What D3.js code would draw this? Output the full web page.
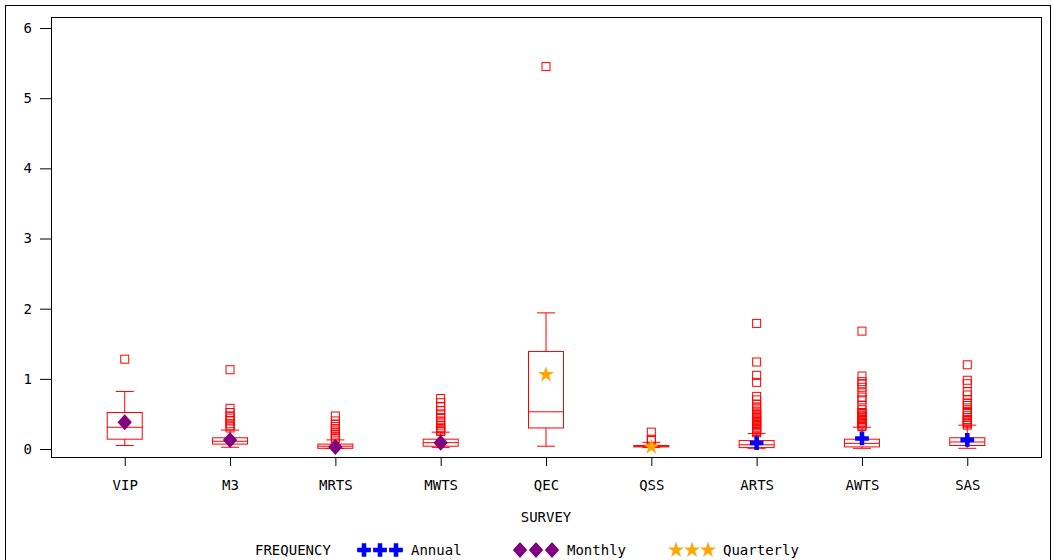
<!DOCTYPE html>
<html>
<head>
<meta charset="utf-8">
<script src="https://cdn.jsdelivr.net/npm/d3@7"></script>
<style>
  body { margin: 0; background: #fff; }
  text { font-family: "DejaVu Sans Mono", monospace; font-size: 14px; fill: #000; }
</style>
</head>
<body>
<div id="chart"></div>
<script>
// Survey categories and box statistics
var surveys   = ["VIP", "M3", "MRTS", "MWTS", "QEC", "QSS", "ARTS", "AWTS", "SAS"];
var frequency = ["Monthly", "Monthly", "Monthly", "Monthly", "Quarterly", "Quarterly", "Annual", "Annual", "Annual"];
var whiskLo   = [0.05, 0.025, 0.01, 0.02, 0.04, 0.02, 0.01, 0.01, 0.01];
var q1        = [0.14, 0.07, 0.01, 0.04, 0.30, 0.03, 0.02, 0.03, 0.05];
var medians   = [0.31, 0.11, 0.04, 0.09, 0.53, 0.04, 0.06, 0.08, 0.10];
var q3        = [0.52, 0.16, 0.07, 0.14, 1.39, 0.05, 0.12, 0.14, 0.16];
var whiskHi   = [0.82, 0.27, 0.13, 0.24, 1.94, 0.095, 0.22, 0.31, 0.34];
var means     = [0.38, 0.13, 0.03, 0.09, 1.06, 0.03, 0.085, 0.15, 0.13];
var outliers  = [
  [1.28],
  [1.13, 0.58, 0.52, 0.47, 0.44, 0.40, 0.36, 0.33, 0.30],
  [0.47, 0.40, 0.35, 0.32, 0.29, 0.26, 0.23, 0.20, 0.17, 0.15],
  [0.72, 0.66, 0.60, 0.55, 0.50, 0.45, 0.40, 0.37, 0.34, 0.31, 0.29, 0.27, 0.25],
  [5.45],
  [0.24, 0.14, 0.12],
  [1.79, 1.24, 1.05, 0.95, 0.75, 0.70, 0.64, 0.60, 0.57, 0.54, 0.51, 0.49, 0.47, 0.45, 0.43, 0.41, 0.39, 0.37, 0.35, 0.33, 0.31, 0.29, 0.27, 0.25, 0.23],
  [1.68, 1.04, 0.96, 0.93, 0.88, 0.80, 0.74, 0.70, 0.62, 0.56, 0.52, 0.50, 0.48, 0.46, 0.44, 0.42, 0.40, 0.38, 0.36, 0.34, 0.32],
  [1.20, 0.98, 0.93, 0.82, 0.77, 0.70, 0.65, 0.62, 0.56, 0.52, 0.48, 0.45, 0.42, 0.40, 0.38, 0.36, 0.34]
];
var yTicks = [0, 1, 2, 3, 4, 5, 6];
var legendItems = ["Annual", "Monthly", "Quarterly"];
var freqColor = {Annual: "#0000ff", Monthly: "#800080", Quarterly: "#ffa500"};

// wide diamond like the SAS marker
var wideDiamond = {
  draw: function(ctx, size) {
    var h = Math.sqrt(size) / 2, w = h * 0.9;
    ctx.moveTo(0, -h); ctx.lineTo(w, 0); ctx.lineTo(0, h); ctx.lineTo(-w, 0); ctx.closePath();
  }
};
var freqSymbol = {Annual: d3.symbolCross, Monthly: wideDiamond, Quarterly: d3.symbolStar};
var freqSize = {Annual: 105, Monthly: 256, Quarterly: 80};

var W = 1053, H = 560;
var margin = {top: 17, right: 12, bottom: 103, left: 51},
    width = W - margin.left - margin.right,
    height = H - margin.top - margin.bottom;

var svg = d3.select("#chart").append("svg")
    .attr("width", W).attr("height", H);

// outer frame
svg.append("rect")
  .attr("x", 5.5).attr("y", 5.5)
  .attr("width", 1045).attr("height", 600)
  .attr("fill", "none").attr("stroke", "#000");

var g = svg.append("g")
  .attr("transform", "translate(" + margin.left + "," + margin.top + ")");

var x = d3.scalePoint().domain(surveys).range([0, width]).padding(0.7);
var y = d3.scaleLinear().domain([-0.114, 6.157]).range([height, 0]);

// plot frame
g.append("rect")
  .attr("x", 0.5).attr("y", 0.5)
  .attr("width", width).attr("height", height)
  .attr("fill", "none").attr("stroke", "#000");

// Y axis
g.append("g")
  .call(d3.axisLeft(y).tickValues(yTicks).tickSize(11).tickPadding(8).tickFormat(d3.format("d")))
  .call(a => a.select(".domain").remove())
  .call(a => a.selectAll(".tick line").attr("stroke", "#000"))
  .call(a => a.selectAll("text").style("font-size", "14px"));

// X axis
g.append("g")
  .attr("transform", "translate(0," + height + ")")
  .call(d3.axisBottom(x).tickSize(9).tickPadding(14))
  .call(a => a.select(".domain").remove())
  .call(a => a.selectAll(".tick line").attr("stroke", "#000"))
  .call(a => a.selectAll("text").style("font-size", "14px"));

svg.append("text")
  .attr("x", margin.left + x("QEC")).attr("y", 522)
  .attr("text-anchor", "middle").text("SURVEY");

var boxW = 35, capW = 18, red = "#ff0000";

var boxes = g.selectAll(".box")
  .data(surveys)
  .enter().append("g")
  .attr("class", "box")
  .attr("transform", d => "translate(" + x(d) + ",0)");

// whiskers
boxes.append("line")
  .attr("y1", (d, i) => y(whiskHi[i])).attr("y2", (d, i) => y(q3[i]))
  .attr("stroke", red);
boxes.append("line")
  .attr("y1", (d, i) => y(whiskLo[i])).attr("y2", (d, i) => y(q1[i]))
  .attr("stroke", red);
boxes.append("line")
  .attr("x1", -capW / 2).attr("x2", capW / 2)
  .attr("y1", (d, i) => y(whiskHi[i])).attr("y2", (d, i) => y(whiskHi[i]))
  .attr("stroke", red);
boxes.append("line")
  .attr("x1", -capW / 2).attr("x2", capW / 2)
  .attr("y1", (d, i) => y(whiskLo[i])).attr("y2", (d, i) => y(whiskLo[i]))
  .attr("stroke", red);

// box and median
boxes.append("rect")
  .attr("x", -boxW / 2)
  .attr("y", (d, i) => y(q3[i]))
  .attr("width", boxW)
  .attr("height", (d, i) => Math.max(1, y(q1[i]) - y(q3[i])))
  .attr("fill", "none").attr("stroke", red);
boxes.append("line")
  .attr("x1", -boxW / 2).attr("x2", boxW / 2)
  .attr("y1", (d, i) => y(medians[i])).attr("y2", (d, i) => y(medians[i]))
  .attr("stroke", red);

// outliers
boxes.each(function(d, i) {
  d3.select(this).selectAll(".out")
    .data(outliers[i])
    .enter().append("rect")
    .attr("x", -4).attr("y", v => y(v) - 4)
    .attr("width", 8).attr("height", 8)
    .attr("fill", "none").attr("stroke", red);
});

// means
boxes.append("path")
  .attr("transform", (d, i) => "translate(0," + y(means[i]) + ")")
  .attr("d", (d, i) => d3.symbol().type(freqSymbol[frequency[i]]).size(freqSize[frequency[i]])())
  .attr("fill", (d, i) => freqColor[frequency[i]]);

// legend
var leg = svg.append("g").attr("transform", "translate(0,550)");
leg.append("text").attr("x", 255).attr("y", 5).text("FREQUENCY");
var legX = {Annual: 357, Monthly: 513, Quarterly: 669};
legendItems.forEach(function(f) {
  [0, 1, 2].forEach(function(k) {
    leg.append("path")
      .attr("transform", "translate(" + (legX[f] + 7 + k * 16) + ",0)")
      .attr("d", d3.symbol().type(freqSymbol[f]).size(freqSize[f])())
      .attr("fill", freqColor[f]);
  });
  leg.append("text").attr("x", legX[f] + 54).attr("y", 5).text(f);
});
</script>
</body>
</html>
